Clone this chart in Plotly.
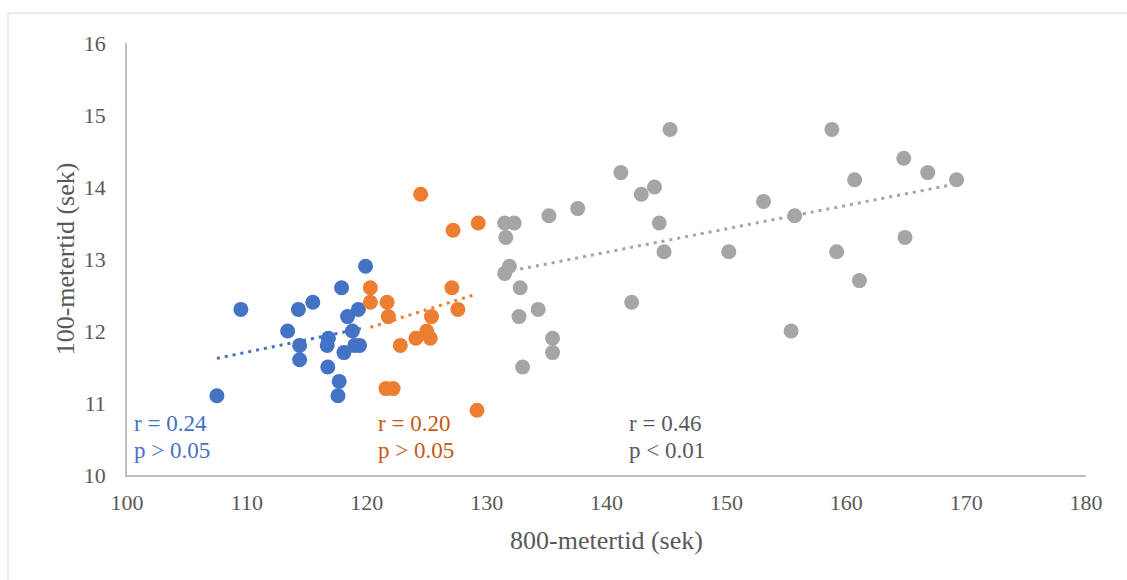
import plotly.graph_objects as go

# ---- data ----
blue_x = [109.5, 107.5, 113.4, 114.3, 115.5, 114.4, 114.4, 116.8, 116.7, 116.75,
          117.7, 117.6, 117.9, 118.1, 118.4, 118.8, 119.3, 119.0, 119.4, 119.9]
blue_y = [12.3, 11.1, 12.0, 12.3, 12.4, 11.8, 11.6, 11.9, 11.8, 11.5,
          11.3, 11.1, 12.6, 11.7, 12.2, 12.0, 12.3, 11.8, 11.8, 12.9]

orange_x = [124.5, 127.2, 129.3, 120.3, 120.3, 121.7, 121.8, 127.1, 127.6, 125.4,
            122.8, 124.1, 125.0, 125.3, 121.6, 122.2, 129.2]
orange_y = [13.9, 13.4, 13.5, 12.6, 12.4, 12.4, 12.2, 12.6, 12.3, 12.2,
            11.8, 11.9, 12.0, 11.9, 11.2, 11.2, 10.9]

grey_x = [145.3, 141.2, 144.0, 142.9, 144.4, 144.8, 142.1, 137.6, 135.2, 131.5,
          132.3, 131.6, 131.9, 131.5, 132.8, 132.7, 134.3, 135.5, 135.5, 133.0,
          150.2, 153.1, 155.7, 158.8, 160.7, 159.2, 161.1, 164.8, 166.8, 169.2,
          164.9, 155.4]
grey_y = [14.8, 14.2, 14.0, 13.9, 13.5, 13.1, 12.4, 13.7, 13.6, 13.5,
          13.5, 13.3, 12.9, 12.8, 12.6, 12.2, 12.3, 11.9, 11.7, 11.5,
          13.1, 13.8, 13.6, 14.8, 14.1, 13.1, 12.7, 14.4, 14.2, 14.1,
          13.3, 12.0]

# trend line end points
blue_trend_x = [107.5, 119.7]
blue_trend_y = [11.62, 12.04]
orange_trend_x = [120.3, 128.9]
orange_trend_y = [12.05, 12.5]
grey_trend_x = [132.8, 168.8]
grey_trend_y = [12.86, 14.03]

# statistics labels
stat_x = [100.4, 120.8, 141.7]
stat_r = ["r = 0.24", "r = 0.20", "r = 0.46"]
stat_p = ["p > 0.05", "p > 0.05", "p < 0.01"]
stat_r_y = 10.72
stat_p_y = 10.34

x_title = "800-metertid (sek)"
y_title = "100-metertid (sek)"

# ---- styles ----
C_BLUE = "#4472C4"
C_ORANGE = "#ED7D31"
C_GREY = "#A5A5A5"
TXT_COLORS = ["#4472C4", "#C55A11", "#595959"]
FONT = "Liberation Serif"

fig = go.Figure()
for xs, ys, c in [(blue_x, blue_y, C_BLUE), (orange_x, orange_y, C_ORANGE), (grey_x, grey_y, C_GREY)]:
    fig.add_trace(go.Scatter(x=xs, y=ys, mode="markers",
                             marker=dict(size=15, color=c, line=dict(width=0)),
                             showlegend=False, hoverinfo="x+y"))
for xs, ys, c in [(blue_trend_x, blue_trend_y, C_BLUE), (orange_trend_x, orange_trend_y, C_ORANGE),
                  (grey_trend_x, grey_trend_y, C_GREY)]:
    fig.add_trace(go.Scatter(x=xs, y=ys, mode="lines",
                             line=dict(color=c, width=3, dash="3px,5px"),
                             showlegend=False, hoverinfo="skip"))

annotations = []
for i in range(3):
    for txt, yy in [(stat_r[i], stat_r_y), (stat_p[i], stat_p_y)]:
        annotations.append(dict(x=stat_x[i], y=yy, xref="x", yref="y", text=txt,
                                showarrow=False, xanchor="left", yanchor="middle",
                                font=dict(family=FONT, size=23, color=TXT_COLORS[i])))

fig.update_layout(
    width=1127, height=580,
    margin=dict(l=127, r=41, t=43, b=105),
    paper_bgcolor="white", plot_bgcolor="white",
    font=dict(family=FONT, color="#595959"),
    annotations=annotations,
    shapes=[dict(type="rect", xref="paper", yref="paper",
                 x0=-0.1241, x1=1.1, y0=-0.3, y1=1.069,
                 line=dict(color="#D9D9D9", width=1), fillcolor="rgba(0,0,0,0)", layer="below")],
)
fig.update_xaxes(range=[100, 180], dtick=10, tick0=100, showgrid=False, zeroline=False,
                 showline=True, linecolor="#BFBFBF", linewidth=1.5,
                 ticks="", ticklabelstandoff=7,
                 tickfont=dict(family=FONT, size=22, color="#595959"),
                 title=dict(text=x_title, font=dict(family=FONT, size=26, color="#595959"), standoff=17))
fig.update_yaxes(range=[10, 16], dtick=1, tick0=10, showgrid=False, zeroline=False,
                 showline=True, linecolor="#BFBFBF", linewidth=1.5,
                 ticks="", ticklabelstandoff=15,
                 tickfont=dict(family=FONT, size=22, color="#595959"),
                 title=dict(text=y_title, font=dict(family=FONT, size=26, color="#595959"), standoff=2))

fig.write_html("out.html")
